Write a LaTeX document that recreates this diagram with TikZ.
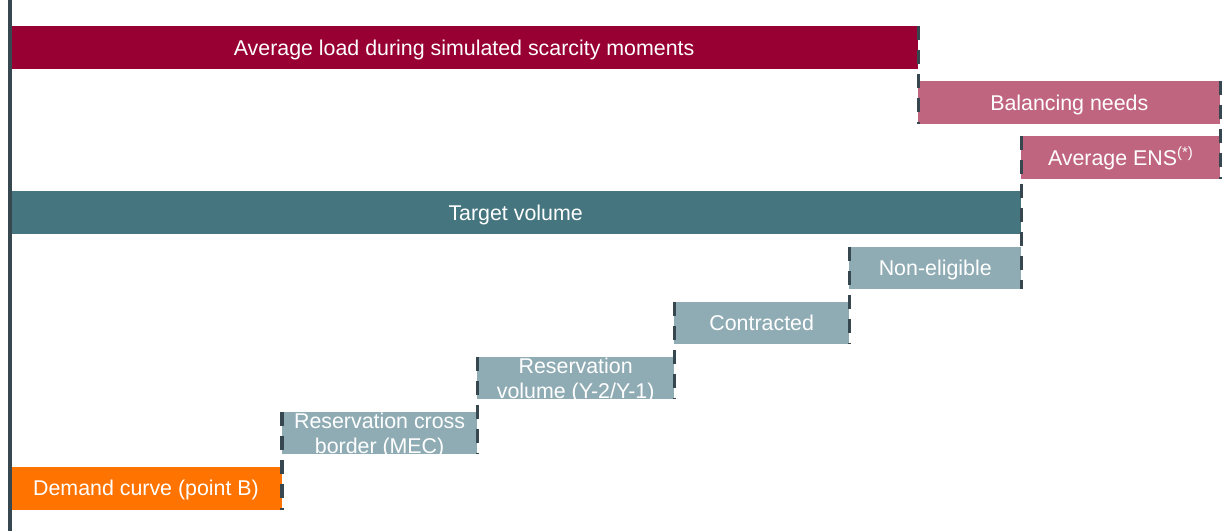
\documentclass[tikz,border=0pt]{standalone}
\usepackage{fontspec}
\setmainfont{Liberation Sans}
\usetikzlibrary{positioning}
\definecolor{loadred}{RGB}{152,0,51}
\definecolor{marginpink}{RGB}{192,101,128}
\definecolor{targetteal}{RGB}{69,117,127}
\definecolor{stepgrey}{RGB}{143,172,180}
\definecolor{demandorange}{RGB}{255,115,0}
\definecolor{axisslate}{RGB}{55,71,79}
\tikzset{
    bar/.style={rectangle,inner sep=0pt,outer sep=0pt,minimum height=1.0625cm,text=white,align=center,
        font=\fontsize{15.2}{18}\selectfont,text height=10.9pt,text depth=0pt},
    two lines/.style={text height=28.9pt},
    load bar/.style={bar,fill=loadred},
    margin bar/.style={bar,fill=marginpink},
    target bar/.style={bar,fill=targetteal},
    step bar/.style={bar,fill=stepgrey},
    demand bar/.style={bar,fill=demandorange},
    axis line/.style={axisslate,line width=2.2pt},
    step line/.style={axisslate,line width=2.3pt,dash pattern=on 0.35cm off 0.25cm},
}
\begin{document}
\begin{tikzpicture}[x=0.025cm,y=-0.025cm,node distance=0.315cm and 0cm]
        \useasboundingbox (0,0) rectangle (1222,531);
        % staircase, from the bottom up
        \node[demand bar,minimum width=6.8cm,anchor=north west] (demand) at (10,467) {Demand curve (point B)};
        \node[step bar,two lines,minimum width=4.875cm,above right=of demand] (cross) {Reservation cross\\border (MEC)};
        \node[step bar,two lines,minimum width=4.925cm,above right=of cross] (resv) {Reservation\\volume (Y-2/Y-1)};
        \node[step bar,minimum width=4.375cm,above right=of resv] (contracted) {Contracted};
        \node[step bar,minimum width=4.3cm,above right=of contracted] (noneligible) {Non-eligible};
        \node[target bar,minimum width=25.275cm,above left=of noneligible.north east] (target) {Target volume};
        \node[margin bar,minimum width=4.975cm,above right=of target] (ens) {Average ENS\textsuperscript{(*)}};
        \node[margin bar,minimum width=7.55cm,above left=of ens.north east] (balancing) {Balancing needs};
        \node[load bar,minimum width=22.7cm,above left=of balancing] (load) {Average load during simulated scarcity moments};

        \draw[step line] (load.north east) -- (balancing.south west);
        \draw[step line] (balancing.north east) -- (ens.south east);
        \draw[step line] (ens.north west) -- (noneligible.south east);
        \draw[step line] (noneligible.north west) -- (contracted.south east);
        \draw[step line] (contracted.north west) -- (resv.south east);
        \draw[step line] (resv.north west) -- (cross.south east);
        \draw[step line] (cross.north west) -- (demand.south east);

        \coordinate (axis top) at (10,0);
        \coordinate (axis bottom) at (10,531);
        \draw[axis line] (axis top) -- (axis bottom);
    \end{tikzpicture}
\end{document}
